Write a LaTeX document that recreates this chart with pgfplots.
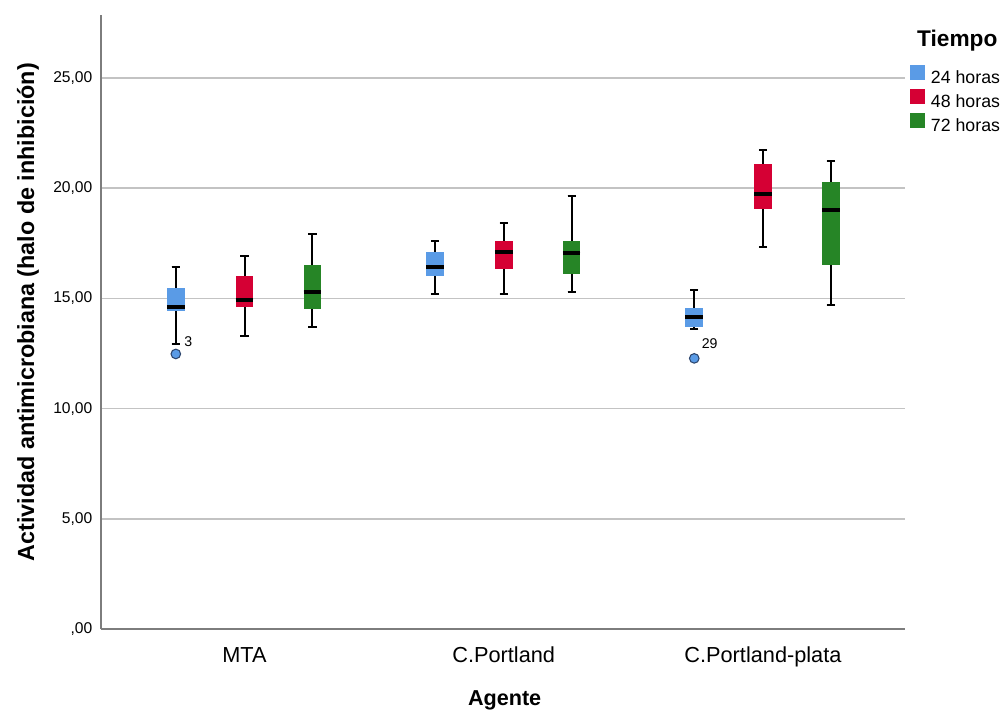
\documentclass[border=0pt]{standalone}
\usepackage{fontspec}
\setmainfont{Liberation Sans}
\usepackage{pgfplots}
\pgfplotsset{compat=1.18}
\usepgfplotslibrary{statistics}
\definecolor{c24}{RGB}{90,155,230}
\definecolor{c48}{RGB}{213,0,52}
\definecolor{c72}{RGB}{38,133,38}
\definecolor{axgray}{RGB}{125,125,125}
\definecolor{gridgray}{RGB}{195,195,195}
\definecolor{outl}{RGB}{45,70,110}
\pgfplotsset{
  boxplot/draw direction=y,
  boxplot/every box/.style={draw=none},
  boxplot/every whisker/.style={black, line width=1.5pt},
  boxplot/every median/.style={black, line width=3pt},
  boxplot/box extend=0.068,
  boxplot/whisker extend=0.032,
  sqlegend/.style={legend image code/.code={\fill[##1] (0pt,-1pt) rectangle (11.25pt,10.25pt);}},
  outpt/.style={only marks, mark=*, mark size=3.6pt, forget plot,
    mark options={fill=c24, draw=outl, line width=0.8pt},
    nodes near coords, point meta=explicit symbolic},
}
\begin{document}
\begin{tikzpicture}
\begin{axis}[
  at={(0,0)}, anchor=south west,
  width=603pt, height=460.5pt, scale only axis,
  clip=false,
  boxplot/draw direction=y,
  xmin=-0.5536, xmax=2.548, ymin=0, ymax=27.86,
  axis x line*=bottom, axis y line*=left,
  axis line style={draw=axgray, line width=1.4pt},
  major tick length=0pt,
  ymajorgrids, grid style={gridgray, line width=1.1pt},
  xtick={0,1,2}, xticklabels={MTA,C.Portland,C.Portland-plata},
  ytick={0,5,10,15,20,25},
  yticklabels={{,00},{5,00},{10,00},{15,00},{20,00},{25,00}},
  /pgf/number format/assume math mode=true,
  yticklabel style={font=\fontsize{11.7pt}{14pt}\selectfont, anchor=east, xshift=-3pt},
  xticklabel style={font=\fontsize{16.3pt}{19pt}\selectfont, anchor=north, yshift=-10pt},
  xlabel={\textbf{Agente}},
  xlabel style={font=\fontsize{16.2pt}{19pt}\selectfont, at={(axis description cs:0.502,-0.117)}, anchor=center},
  ylabel={\textbf{Actividad antimicrobiana (halo de inhibición)}},
  ylabel style={font=\fontsize{17.5pt}{20pt}\selectfont, at={(axis description cs:-0.0908,0.516)}, anchor=center, rotate=0},
  legend style={at={(axis description cs:1.0062,0.918)}, anchor=north west,
    draw=none, fill=none, inner sep=0pt, outer sep=0pt,
    font=\fontsize{13.3pt}{16pt}\selectfont,
    nodes={inner sep=0pt, text height=10pt, text depth=3pt},
    row sep=1.3pt,
    /tikz/every odd column/.append style={column sep=4.5pt}},
  legend cell align=left,
]
% MTA
\addplot[forget plot, draw=black, fill=c24, boxplot prepared={draw position=-0.265, lower whisker=12.92, lower quartile=14.43, median=14.59, upper quartile=15.49, upper whisker=16.44}] coordinates {};
\addplot[forget plot, draw=black, fill=c48, boxplot prepared={draw position=0, lower whisker=13.29, lower quartile=14.62, median=14.93, upper quartile=16.02, upper whisker=16.92}] coordinates {};
\addplot[forget plot, draw=black, fill=c72, boxplot prepared={draw position=0.262, lower whisker=13.72, lower quartile=14.51, median=15.31, upper quartile=16.50, upper whisker=17.92}] coordinates {};
% C.Portland
\addplot[forget plot, draw=black, fill=c24, boxplot prepared={draw position=0.735, lower whisker=15.20, lower quartile=16.02, median=16.41, upper quartile=17.10, upper whisker=17.60}] coordinates {};
\addplot[forget plot, draw=black, fill=c48, boxplot prepared={draw position=1, lower whisker=15.20, lower quartile=16.32, median=17.12, upper quartile=17.59, upper whisker=18.41}] coordinates {};
\addplot[forget plot, draw=black, fill=c72, boxplot prepared={draw position=1.262, lower whisker=15.31, lower quartile=16.11, median=17.08, upper quartile=17.59, upper whisker=19.65}] coordinates {};
% C.Portland-plata
\addplot[forget plot, draw=black, fill=c24, boxplot prepared={draw position=1.735, lower whisker=13.61, lower quartile=13.72, median=14.16, upper quartile=14.58, upper whisker=15.40}] coordinates {};
\addplot[forget plot, draw=black, fill=c48, boxplot prepared={draw position=2, lower whisker=17.32, lower quartile=19.04, median=19.72, upper quartile=21.10, upper whisker=21.73}] coordinates {};
\addplot[forget plot, draw=black, fill=c72, boxplot prepared={draw position=2.262, lower whisker=14.70, lower quartile=16.52, median=19.01, upper quartile=20.30, upper whisker=21.23}] coordinates {};
% outliers
\addplot[outpt, nodes near coords style={anchor=west, inner sep=0pt, font=\fontsize{10.6pt}{12pt}\selectfont, xshift=6pt, yshift=9pt}] coordinates {(-0.265,12.48)[3]};
\addplot[outpt, nodes near coords style={anchor=west, inner sep=0pt, font=\fontsize{10.6pt}{12pt}\selectfont, xshift=5.25pt, yshift=11.25pt}] coordinates {(1.735,12.28)[29]};
% legend
\addlegendimage{sqlegend, fill=c24, draw=none}
\addlegendentry{24 horas}
\addlegendimage{sqlegend, fill=c48, draw=none}
\addlegendentry{48 horas}
\addlegendimage{sqlegend, fill=c72, draw=none}
\addlegendentry{72 horas}
\node[font=\bfseries\fontsize{17pt}{20pt}\selectfont, anchor=center, yshift=-2.25pt] at (axis description cs:1.065,0.9625) {Tiempo};
\end{axis}
\pgfresetboundingbox
\path (-75.75pt,-61.5pt) rectangle (678pt,471.75pt);
\end{tikzpicture}
\end{document}
